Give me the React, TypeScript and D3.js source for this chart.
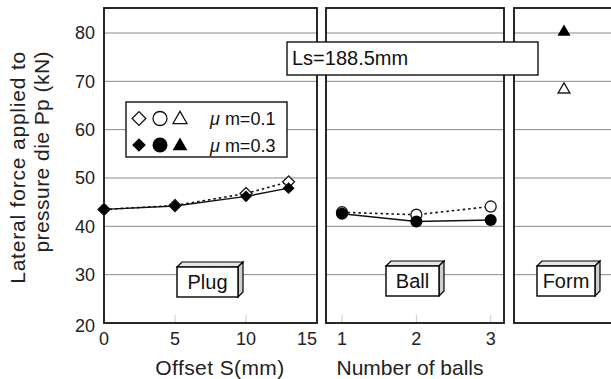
import React from "react";
import * as d3 from "d3";

const yTicks = [20, 30, 40, 50, 60, 70, 80];
const plugOffsets = [0, 5, 10, 13];
const plugLow = [43.5, 44.3, 46.8, 49.2];   // μm=0.1
const plugHigh = [43.5, 44.2, 46.2, 47.9];  // μm=0.3
const plugTicks = [0, 5, 10, 15];
const ballCounts = [1, 2, 3];
const ballLow = [42.9, 42.4, 44.1];
const ballHigh = [42.6, 41.0, 41.3];
const ballTicks = [1, 2, 3];
const formLow = [68.5];
const formHigh = [80.4];
const legendLabels = ["μ m=0.1", "μ m=0.3"];

const W = 611, H = 379;
const top = 8, bottom = 323;
const font = "'Liberation Sans', Arial, sans-serif";

function Box3D({ x, y, w, h, d, label }: { x: number; y: number; w: number; h: number; d: number; label: string }) {
  return (
    <g>
      <polygon points={`${x},${y} ${x + d},${y - d} ${x + w + d},${y - d} ${x + w},${y}`} fill="#e6e6e6" stroke="#000" strokeWidth={1.2} />
      <polygon points={`${x + w},${y} ${x + w + d},${y - d} ${x + w + d},${y + h - d} ${x + w},${y + h}`} fill="#cfcfcf" stroke="#000" strokeWidth={1.2} />
      <rect x={x} y={y} width={w} height={h} fill="#fff" stroke="#000" strokeWidth={1.4} />
      <text x={x + w / 2} y={y + h / 2} dy="0.36em" textAnchor="middle" fontSize={20} fontFamily={font} fill="#111">{label}</text>
    </g>
  );
}

const diamond = d3.symbol().type(d3.symbolDiamond2);
const tri = d3.symbol().type(d3.symbolTriangle);

export default function App() {
  const y = d3.scaleLinear().domain([20, 80]).range([bottom, 33]);
  const x1 = d3.scaleLinear().domain([0, 10]).range([104, 246]);
  const x2 = d3.scaleLinear().domain([1, 3]).range([342, 490.7]);
  const x3 = d3.scaleLinear().domain([0, 2]).range([514, 614]);
  const p1 = { l: 104, r: 317 };
  const p2 = { l: 326, r: 504 };
  const p3 = { l: 514, r: 625 };
  const panels = [p1, p2, p3];

  const line = d3.line<[number, number]>().x(d => d[0]).y(d => d[1]);
  const plugLowPts: [number, number][] = plugOffsets.map((v, i) => [x1(v), y(plugLow[i])]);
  const plugHighPts: [number, number][] = plugOffsets.map((v, i) => [x1(v), y(plugHigh[i])]);
  const ballLowPts: [number, number][] = ballCounts.map((v, i) => [x2(v), y(ballLow[i])]);
  const ballHighPts: [number, number][] = ballCounts.map((v, i) => [x2(v), y(ballHigh[i])]);

  return (
    <svg width={W} height={H} style={{ position: "absolute", left: 0, top: 0, background: "#fff" }}>
      <rect width={W} height={H} fill="#fff" />
      {/* grid */}
      {panels.map((p, pi) => (
        <g key={pi}>
          {yTicks.filter(t => t > 20).map(t => (
            <line key={t} x1={p.l} x2={p.r} y1={y(t)} y2={y(t)} stroke="#8a8a8a" strokeWidth={1} />
          ))}
        </g>
      ))}
      {/* inner ticks */}
      {plugTicks.map(t => (
        <line key={"pt" + t} x1={x1(t)} x2={x1(t)} y1={bottom - 8} y2={bottom} stroke="#c8c8c8" strokeWidth={1} />
      ))}
      {ballTicks.map(t => (
        <line key={"bt" + t} x1={x2(t)} x2={x2(t)} y1={bottom - 8} y2={bottom} stroke="#c8c8c8" strokeWidth={1} />
      ))}
      {/* panel frames */}
      {panels.map((p, pi) => (
        <rect key={"f" + pi} x={p.l} y={top} width={p.r - p.l} height={bottom - top} fill="none" stroke="#111" strokeWidth={1.8} />
      ))}
      {/* y tick labels */}
      {yTicks.map(t => (
        <text key={"yl" + t} x={95} y={y(t) + (t === 20 ? 3 : 0)} dy="0.36em" textAnchor="end" fontSize={18} fontFamily={font} fill="#222">{t}</text>
      ))}
      {/* x tick labels */}
      {plugTicks.map((t, i) => (
        <text key={"xl" + t} x={x1(t)} y={345} textAnchor={i === plugTicks.length - 1 ? "end" : "middle"} fontSize={18} fontFamily={font} fill="#222">{t}</text>
      ))}
      {ballTicks.map(t => (
        <text key={"xb" + t} x={x2(t)} y={345} textAnchor="middle" fontSize={18} fontFamily={font} fill="#222">{t}</text>
      ))}
      {/* axis titles */}
      <text x={220} y={375} textAnchor="middle" fontSize={21} letterSpacing={0.4} fontFamily={font} fill="#222">Offset S(mm)</text>
      <text x={410} y={375} textAnchor="middle" fontSize={21} fontFamily={font} fill="#222">Number of balls</text>
      <text transform="translate(25,51) rotate(-90)" textAnchor="end" fontSize={21} letterSpacing={0.8} fontFamily={font} fill="#222">Lateral force applied to</text>
      <text transform="translate(49,51) rotate(-90)" textAnchor="end" fontSize={21} letterSpacing={0.45} fontFamily={font} fill="#222">pressure die Pp (kN)</text>

      {/* series lines */}
      <path d={line(plugLowPts) || ""} fill="none" stroke="#111" strokeWidth={1.6} strokeDasharray="2.5,3" />
      <path d={line(plugHighPts) || ""} fill="none" stroke="#111" strokeWidth={1.4} />
      <path d={line(ballLowPts) || ""} fill="none" stroke="#111" strokeWidth={1.6} strokeDasharray="2.5,3" />
      <path d={line(ballHighPts) || ""} fill="none" stroke="#111" strokeWidth={1.4} />
      {/* markers */}
      {plugLowPts.map((p, i) => (
        <path key={"pl" + i} d={diamond.size(90)() || ""} transform={`translate(${p[0]},${p[1]})`} fill="#fff" stroke="#222" strokeWidth={1.4} />
      ))}
      {plugHighPts.map((p, i) => (
        <path key={"ph" + i} d={diamond.size(90)() || ""} transform={`translate(${p[0]},${p[1]})`} fill="#000" />
      ))}
      {ballLowPts.map((p, i) => (
        <circle key={"bl" + i} cx={p[0]} cy={p[1]} r={5.5} fill="#fff" stroke="#222" strokeWidth={1.4} />
      ))}
      {ballHighPts.map((p, i) => (
        <circle key={"bh" + i} cx={p[0]} cy={p[1]} r={6} fill="#000" />
      ))}
      {formLow.map((v, i) => (
        <path key={"fl" + i} d={tri.size(60)() || ""} transform={`translate(${x3(1)},${y(v) + 1})`} fill="#fff" stroke="#222" strokeWidth={1.4} />
      ))}
      {formHigh.map((v, i) => (
        <path key={"fh" + i} d={tri.size(75)() || ""} transform={`translate(${x3(1)},${y(v) + 1})`} fill="#000" />
      ))}

      {/* Ls box */}
      <rect x={287} y={42} width={251} height={33} fill="#fff" stroke="#111" strokeWidth={1.4} />
      <text x={292} y={65} fontSize={20} fontFamily={font} fill="#111">Ls=188.5mm</text>

      {/* legend */}
      <rect x={126} y={102} width={161} height={55} fill="#fff" stroke="#111" strokeWidth={1.4} />
      <path d={diamond.size(120)() || ""} transform="translate(139,118.5)" fill="#fff" stroke="#111" strokeWidth={1.3} />
      <circle cx={160} cy={118.5} r={7} fill="#fff" stroke="#111" strokeWidth={1.3} />
      <path d={tri.size(85)() || ""} transform="translate(180,119.5)" fill="#fff" stroke="#111" strokeWidth={1.3} />
      <path d={diamond.size(120)() || ""} transform="translate(139,145)" fill="#000" />
      <circle cx={160} cy={145} r={7.5} fill="#000" />
      <path d={tri.size(95)() || ""} transform="translate(180,146)" fill="#000" />
      {legendLabels.map((l, i) => (
        <text key={l} x={210} y={125 + i * 27} fontSize={18} fontFamily={font} fill="#111">
          <tspan fontStyle="italic">μ</tspan>
          <tspan>{l.slice(1)}</tspan>
        </text>
      ))}

      {/* method boxes */}
      <Box3D x={177} y={267} w={61} h={30} d={5} label="Plug" />
      <Box3D x={386} y={266} w={53} h={30} d={5} label="Ball" />
      <Box3D x={537} y={266} w={58} h={30} d={5} label="Form" />
    </svg>
  );
}
